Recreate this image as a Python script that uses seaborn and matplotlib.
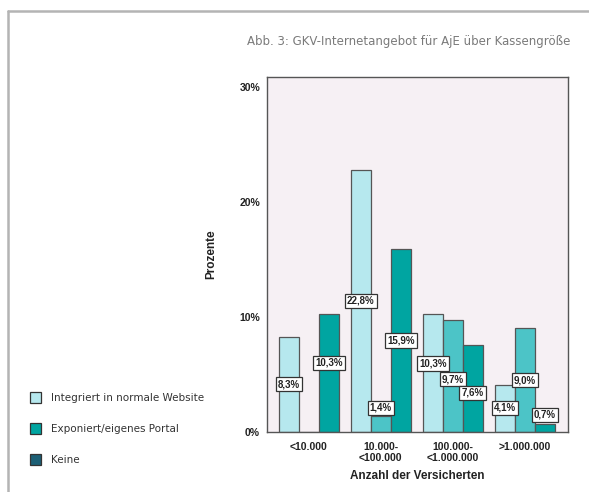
import pandas as pd
import matplotlib.pyplot as plt
import seaborn as sns
from matplotlib.patches import Patch
from matplotlib.lines import Line2D

groups = ['<10.000', '10.000-\n<100.000', '100.000-\n<1.000.000', '>1.000.000']
kinds = ['Integriert in normale Website', 'Exponiert/eigenes Portal', 'Keine']
integriert = [8.3, 22.8, 10.3, 4.1]
exponiert = [0.0, 1.4, 9.7, 9.0]
keine = [10.3, 15.9, 7.6, 0.7]

# label nudges (SPSS moves boxes apart)
nudge = [[0, 0, 0], [0, 0, 0], [0.8, -0.25, -0.4], [0, 0, 0]]

bar_colors = ['#b6e8ee', '#4cc4c7', '#00a5a1']
legend_colors = ['#b6e8ee', '#00a5a1', '#1c5f75']

rows = []
for i, g in enumerate(groups):
    for k, vals in zip(kinds, [integriert, exponiert, keine]):
        rows.append({'Gruppe': g, 'Art': k, 'Wert': vals[i]})
df = pd.DataFrame(rows)

sns.set_style('white')
plt.rcParams['font.family'] = ['Liberation Sans', 'DejaVu Sans']

fig = plt.figure(figsize=(5.89, 4.92), dpi=100)
ax = fig.add_axes([0.4533, 0.122, 0.511, 0.7215])
ax.set_facecolor('#f6f0f4')

sns.barplot(data=df, x='Gruppe', y='Wert', hue='Art', hue_order=kinds,
            palette=bar_colors, saturation=1, width=0.83, edgecolor='#555555',
            linewidth=0.9, legend=False, ax=ax)

ax.set_xlim(-0.58, 3.6)
ax.set_ylim(0, 30.87)

# value boxes
for j, cont in enumerate(ax.containers):
    for i, bar in enumerate(cont):
        v = bar.get_height()
        if v <= 0:
            continue
        y = max(v / 2, 2.1 if v > 1 else 1.5) + nudge[i][j]
        if i == 0 and j == 2:
            y = v / 2 + 0.85
        ax.text(bar.get_x() + bar.get_width() / 2, y,
                ('%.1f%%' % v).replace('.', ','), ha='center', va='center',
                fontsize=7, fontweight='bold', color='#222222',
                bbox=dict(boxstyle='square,pad=0.22', fc='white', ec='#333333', lw=0.9))

ax.set_yticks([0, 10, 20, 30])
ax.set_yticklabels(['0%', '10%', '20%', '30%'])
ax.tick_params(axis='both', direction='out', length=4, width=1, color='#444444',
               labelsize=7.5, labelcolor='#222222')
for lab in ax.get_xticklabels() + ax.get_yticklabels():
    lab.set_fontweight('bold')
ax.tick_params(axis='y', pad=1)
ax.tick_params(axis='x', pad=3)

ax.set_xlabel('Anzahl der Versicherten', fontsize=8.5, fontweight='bold', labelpad=5, color='#222222')
ax.set_ylabel('Prozente', fontsize=8.5, fontweight='bold', labelpad=16, color='#222222')

for s in ax.spines.values():
    s.set_visible(True)
    s.set_color('#555555')
    s.set_linewidth(1)

fig.text(0.968, 0.915, 'Abb. 3: GKV-Internetangebot für AjE über Kassengröße',
         ha='right', va='center', fontsize=8.5, color='#7a7a7a', family='DejaVu Sans')

handles = [Patch(facecolor=c, edgecolor='#333333', linewidth=0.9) for c in legend_colors]
fig.legend(handles, kinds, loc='lower left', bbox_to_anchor=(0.035, 0.035),
           frameon=False, labelspacing=1.9, handlelength=1.1,
           handleheight=1.3, handletextpad=0.9, labelcolor='#333333',
           prop={'family': 'DejaVu Sans', 'size': 7.5})

# outer gray frame
fig.add_artist(Line2D([0.0136, 1.0], [0.978, 0.978], color='#b4b4b4', lw=1.8))
fig.add_artist(Line2D([0.0136, 0.0136], [0.0, 0.978], color='#b4b4b4', lw=1.8))

fig.savefig('out.png', dpi=100)
